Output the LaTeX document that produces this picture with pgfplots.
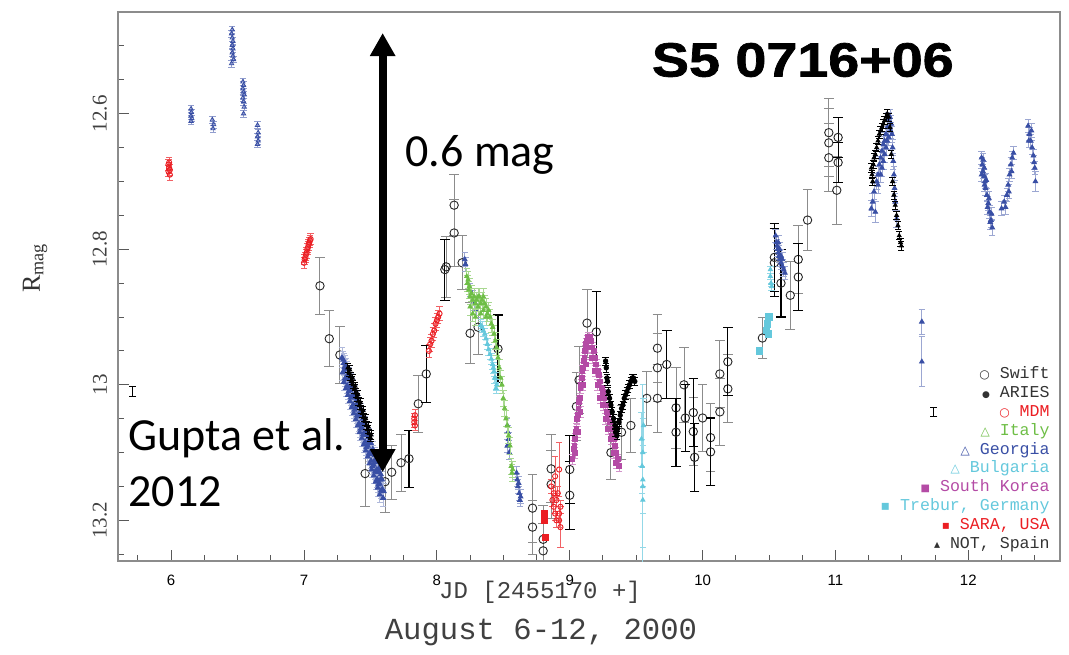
\documentclass[border=0pt]{standalone}
\usepackage{fontspec}
\setmainfont{Liberation Serif}
\newfontfamily\monof{Liberation Mono}
\newfontfamily\calif{Carlito}
\newfontfamily\sansf{Liberation Sans}
\newfontfamily\heavyf{Liberation Sans}[FakeStretch=1.16, BoldFeatures={FakeBold=1.5}]
\newfontfamily\symf{DejaVu Sans}
\usepackage{pgfplots}
\usepackage{pgfplotstable}
\pgfplotsset{compat=1.18}
\usetikzlibrary{arrows.meta}
\definecolor{geo}{RGB}{57,79,165}
\definecolor{mdm}{RGB}{235,30,35}
\definecolor{ita}{RGB}{110,190,70}
\definecolor{bul}{RGB}{100,200,220}
\definecolor{kor}{RGB}{180,75,165}
\newcommand\mk[2]{{\symf\fontsize{#1}{9.45bp}\selectfont #2}}

% ---------------- data ----------------
\pgfplotstableread{
x y e
7.12 12.854 0.042
7.19 12.932 0.041
7.27 12.956 0.042
7.46 13.131 0.049
7.61 13.143 0.045
7.66 13.129 0.040
7.73 13.115 0.042
7.86 13.028 0.042
8.07 12.826 0.045
8.13 12.735 0.045
8.13 12.776 0.050
8.19 12.820 0.040
8.25 12.924 0.045
8.31 12.915 0.040
8.72 13.182 0.050
8.72 13.210 0.040
8.80 13.228 0.050
8.80 13.245 0.040
8.86 13.124 0.050
8.86 13.147 0.050
9.05 13.032 0.050
9.07 12.993 0.050
9.13 12.909 0.050
9.31 13.100 0.040
9.39 13.070 0.040
9.46 13.060 0.040
9.58 13.020 0.040
9.66 12.946 0.050
9.66 12.975 0.050
9.66 13.020 0.050
9.80 13.034 0.060
9.86 13.000 0.055
9.93 13.069 0.050
10.00 13.049 0.050
10.06 13.078 0.050
10.13 12.984 0.050
10.13 13.040 0.050
10.19 13.006 0.050
10.45 12.931 0.030
10.66 12.868 0.050
10.72 12.815 0.050
10.79 12.757 0.045
10.95 12.628 0.050
10.95 12.643 0.050
10.95 12.665 0.050
11.01 12.713 0.050
}\swiftA
\pgfplotstableread{
x y e
7.79 13.109 0.042
7.92 12.984 0.042
8.06 12.830 0.045
8.46 12.947 0.050
9.00 13.125 0.050
9.00 13.163 0.050
9.20 12.922 0.060
9.73 12.970 0.050
9.80 13.070 0.050
9.87 13.049 0.050
9.93 13.041 0.050
9.94 13.107 0.050
10.06 13.099 0.050
10.19 12.966 0.050
10.54 12.812 0.050
10.54 12.820 0.050
10.59 12.850 0.050
10.72 12.841 0.050
11.02 12.635 0.030
11.02 12.672 0.030
}\swiftB
\pgfplotstableread{
x y e
5.71 13.010 0.007
11.74 13.040 0.007
}\typerr
\pgfplotstableread{
x y e
6.150 12.593 0.005
6.152 12.598 0.005
6.150 12.603 0.005
6.155 12.607 0.005
6.150 12.611 0.005
6.310 12.609 0.005
6.320 12.616 0.005
6.315 12.622 0.005
6.460 12.476 0.005
6.455 12.482 0.005
6.460 12.488 0.005
6.465 12.493 0.005
6.460 12.499 0.005
6.465 12.504 0.005
6.460 12.510 0.005
6.465 12.515 0.005
6.470 12.520 0.005
6.455 12.526 0.005
6.540 12.553 0.005
6.545 12.558 0.005
6.540 12.563 0.005
6.545 12.568 0.005
6.550 12.572 0.005
6.540 12.577 0.005
6.545 12.582 0.005
6.550 12.590 0.005
6.545 12.600 0.005
6.650 12.617 0.005
6.655 12.628 0.005
6.650 12.634 0.005
6.655 12.640 0.005
6.650 12.645 0.005
}\geoEarly
\pgfplotstableread{
x y e
7.285 12.960 0.015
7.300 12.968 0.015
7.290 12.982 0.012
7.295 12.963 0.012
7.300 12.980 0.012
7.305 12.974 0.012
7.310 12.990 0.012
7.315 12.973 0.012
7.320 12.988 0.012
7.325 13.001 0.012
7.330 12.992 0.012
7.335 13.010 0.012
7.340 12.991 0.012
7.345 13.008 0.012
7.350 13.002 0.012
7.355 13.018 0.012
7.360 13.001 0.012
7.365 13.016 0.012
7.370 13.029 0.012
7.375 13.019 0.012
7.380 13.037 0.012
7.385 13.018 0.012
7.390 13.035 0.012
7.395 13.029 0.012
7.400 13.045 0.012
7.405 13.028 0.012
7.410 13.044 0.012
7.415 13.057 0.012
7.420 13.047 0.012
7.425 13.065 0.012
7.430 13.046 0.012
7.435 13.063 0.012
7.440 13.057 0.012
7.445 13.073 0.012
7.450 13.056 0.012
7.455 13.071 0.012
7.460 13.084 0.012
7.465 13.074 0.012
7.470 13.092 0.012
7.475 13.073 0.012
7.480 13.090 0.012
7.485 13.084 0.012
7.490 13.101 0.012
7.495 13.084 0.012
7.500 13.099 0.012
7.505 13.112 0.012
7.510 13.102 0.012
7.515 13.120 0.012
7.520 13.101 0.012
7.525 13.118 0.012
7.530 13.112 0.012
7.535 13.128 0.012
7.540 13.111 0.012
7.545 13.126 0.012
7.550 13.139 0.012
7.555 13.129 0.012
7.560 13.147 0.012
7.565 13.128 0.012
7.570 13.146 0.012
7.575 13.140 0.012
7.580 13.156 0.012
7.585 13.139 0.012
7.590 13.154 0.012
7.595 13.167 0.012
7.600 13.157 0.012
7.300 12.996 0.012
7.315 13.005 0.012
7.330 13.015 0.012
7.345 13.024 0.012
7.360 13.033 0.012
7.375 13.042 0.012
7.390 13.051 0.012
7.405 13.060 0.012
7.420 13.070 0.012
7.435 13.079 0.012
7.450 13.088 0.012
7.465 13.097 0.012
7.480 13.106 0.012
7.495 13.116 0.012
7.510 13.125 0.012
7.525 13.134 0.012
7.540 13.143 0.012
7.555 13.152 0.012
7.570 13.162 0.012
7.308 12.968 0.012
7.323 12.977 0.012
7.338 12.986 0.012
7.353 12.995 0.012
7.368 13.004 0.012
7.383 13.013 0.012
7.398 13.022 0.012
7.413 13.031 0.012
7.428 13.040 0.012
7.443 13.050 0.012
7.458 13.059 0.012
7.473 13.068 0.012
7.488 13.077 0.012
7.503 13.086 0.012
7.518 13.095 0.012
7.533 13.104 0.012
7.548 13.114 0.012
7.563 13.123 0.012
7.578 13.132 0.012
}\geoDecl
\pgfplotstableread{
x y e
8.210 12.815 0.010
8.215 12.822 0.010
8.250 12.860 0.010
8.270 12.870 0.010
8.280 12.880 0.010
8.300 12.890 0.010
8.530 13.060 0.010
8.535 13.070 0.010
8.540 13.080 0.010
8.530 13.090 0.010
8.545 13.100 0.010
8.600 13.130 0.010
8.605 13.140 0.010
8.610 13.150 0.010
8.620 13.160 0.010
8.625 13.170 0.010
8.615 13.145 0.010
8.630 13.165 0.010
10.550 12.780 0.010
10.555 12.790 0.010
10.560 12.795 0.010
10.565 12.800 0.010
10.570 12.805 0.010
10.575 12.810 0.010
10.580 12.815 0.010
10.590 12.820 0.010
10.600 12.825 0.010
10.610 12.830 0.010
10.620 12.835 0.010
10.570 12.790 0.010
10.580 12.800 0.010
10.590 12.810 0.010
10.600 12.815 0.010
11.270 12.740 0.012
11.280 12.730 0.012
11.290 12.715 0.012
11.300 12.745 0.015
11.310 12.700 0.012
11.320 12.690 0.012
11.330 12.675 0.012
11.340 12.665 0.012
11.350 12.655 0.012
11.360 12.645 0.012
11.370 12.640 0.012
11.380 12.630 0.012
11.390 12.620 0.012
11.400 12.610 0.012
11.410 12.605 0.012
11.420 12.615 0.012
11.425 12.630 0.012
11.430 12.650 0.012
11.435 12.670 0.012
11.440 12.690 0.012
11.445 12.710 0.012
11.450 12.730 0.012
11.460 12.755 0.012
11.340 12.690 0.012
11.360 12.670 0.012
11.380 12.650 0.012
11.400 12.635 0.012
11.320 12.705 0.012
11.350 12.680 0.012
11.370 12.660 0.012
11.390 12.640 0.012
11.415 12.625 0.012
11.650 12.907 0.018
11.650 12.966 0.037
12.100 12.665 0.010
12.105 12.675 0.010
12.110 12.685 0.010
12.120 12.692 0.010
12.125 12.700 0.010
12.130 12.710 0.010
12.140 12.720 0.010
12.150 12.732 0.010
12.160 12.745 0.010
12.170 12.757 0.010
12.180 12.768 0.012
12.100 12.690 0.010
12.120 12.680 0.010
12.112 12.668 0.010
12.122 12.705 0.010
12.135 12.698 0.010
12.145 12.738 0.010
12.155 12.725 0.010
12.165 12.760 0.010
12.175 12.748 0.010
12.250 12.740 0.010
12.270 12.730 0.010
12.290 12.720 0.010
12.300 12.705 0.010
12.310 12.690 0.010
12.320 12.675 0.010
12.330 12.665 0.010
12.340 12.658 0.010
12.280 12.738 0.010
12.305 12.715 0.010
12.325 12.685 0.010
12.450 12.618 0.010
12.460 12.630 0.010
12.470 12.640 0.010
12.480 12.650 0.010
12.490 12.662 0.010
12.500 12.680 0.010
12.505 12.700 0.015
12.455 12.640 0.010
12.475 12.625 0.010
12.495 12.672 0.010
}\geoRest
\pgfplotstableread{
x y e
7.330 12.975 0.006
7.340 12.982 0.006
7.350 12.988 0.006
7.360 12.994 0.006
7.370 13.000 0.006
7.380 13.006 0.006
7.390 13.012 0.006
7.400 13.018 0.006
7.410 13.024 0.006
7.420 13.030 0.006
7.430 13.036 0.006
7.440 13.042 0.006
7.450 13.048 0.006
7.460 13.054 0.006
7.470 13.060 0.006
7.480 13.066 0.006
7.490 13.072 0.006
7.500 13.078 0.006
7.345 12.978 0.006
7.365 12.990 0.006
7.385 13.002 0.006
7.405 13.014 0.006
7.425 13.026 0.006
7.445 13.038 0.006
7.465 13.050 0.006
7.485 13.062 0.006
7.505 13.074 0.006
11.270 12.680 0.006
11.275 12.690 0.006
11.280 12.700 0.006
11.285 12.675 0.006
11.290 12.665 0.006
11.300 12.660 0.006
11.310 12.650 0.006
11.320 12.640 0.006
11.330 12.630 0.006
11.340 12.625 0.006
11.350 12.620 0.006
11.360 12.615 0.006
11.370 12.610 0.006
11.380 12.605 0.006
11.390 12.600 0.006
11.400 12.605 0.006
11.410 12.620 0.006
11.420 12.660 0.006
11.430 12.700 0.006
11.440 12.720 0.006
11.450 12.735 0.006
11.460 12.750 0.006
11.470 12.765 0.006
11.480 12.780 0.006
11.490 12.790 0.006
11.495 12.795 0.006
}\notsp
\pgfplotstableread{
x y e
9.270 12.965 0.006
9.275 12.975 0.006
9.280 12.990 0.006
9.285 12.995 0.006
9.290 13.010 0.006
9.300 13.020 0.006
9.310 13.030 0.006
9.320 13.040 0.006
9.330 13.050 0.006
9.340 13.060 0.006
9.350 13.070 0.006
9.355 13.075 0.006
9.345 13.070 0.006
9.360 13.065 0.006
9.370 13.055 0.006
9.380 13.045 0.006
9.390 13.035 0.006
9.400 13.030 0.006
9.410 13.020 0.006
9.420 13.015 0.006
9.430 13.010 0.006
9.440 13.005 0.006
9.450 13.000 0.006
9.460 12.995 0.006
9.470 12.990 0.006
9.480 12.990 0.006
9.490 12.995 0.006
}\aries
\pgfplotstableread{
x y e
5.980 12.675 0.008
5.985 12.680 0.008
5.980 12.685 0.008
5.990 12.690 0.008
5.985 12.672 0.008
5.990 12.683 0.008
7.000 12.820 0.008
7.005 12.815 0.008
7.010 12.812 0.008
7.015 12.808 0.008
7.020 12.805 0.008
7.025 12.800 0.008
7.030 12.797 0.008
7.035 12.793 0.008
7.040 12.790 0.008
7.045 12.787 0.008
7.050 12.785 0.008
7.830 13.050 0.008
7.835 13.060 0.008
7.830 13.055 0.008
7.835 13.045 0.008
7.940 12.950 0.010
7.950 12.940 0.010
7.960 12.935 0.010
7.970 12.925 0.010
7.980 12.920 0.010
7.990 12.910 0.010
8.000 12.905 0.010
8.010 12.900 0.010
8.020 12.895 0.010
8.860 13.150 0.010
8.870 13.170 0.010
8.880 13.180 0.010
8.890 13.190 0.010
8.900 13.170 0.010
8.910 13.160 0.010
8.920 13.200 0.010
8.930 13.180 0.010
8.900 13.200 0.010
8.880 13.160 0.010
8.920 13.190 0.010
8.890 13.135 0.030
8.930 13.210 0.030
8.920 13.125 0.040
}\mdmd
\pgfplotstableread{
x y e
8.810 13.190 0.004
8.810 13.200 0.004
8.815 13.225 0.004
}\sara
\pgfplotstableread{
x y e
8.225 12.840 0.012
8.230 12.850 0.012
8.235 12.845 0.012
8.240 12.860 0.012
8.245 12.855 0.012
8.250 12.870 0.012
8.260 12.865 0.012
8.270 12.875 0.012
8.280 12.870 0.012
8.290 12.880 0.012
8.300 12.875 0.012
8.310 12.885 0.012
8.320 12.870 0.012
8.330 12.880 0.012
8.340 12.875 0.012
8.350 12.890 0.012
8.360 12.880 0.012
8.370 12.885 0.012
8.380 12.895 0.012
8.390 12.890 0.012
8.400 12.900 0.012
8.410 12.910 0.012
8.420 12.915 0.012
8.250 12.885 0.012
8.270 12.895 0.012
8.290 12.900 0.012
8.310 12.870 0.012
8.330 12.895 0.012
8.350 12.870 0.012
8.370 12.900 0.012
8.430 12.925 0.012
8.440 12.935 0.012
8.450 12.945 0.012
8.460 12.960 0.012
8.470 12.975 0.012
8.480 12.990 0.012
8.490 13.000 0.012
8.500 13.020 0.012
8.510 13.035 0.012
8.520 13.050 0.012
8.530 13.060 0.012
8.540 13.075 0.012
8.550 13.090 0.012
8.560 13.120 0.012
8.565 13.130 0.012
8.570 13.125 0.012
}\italy
\pgfplotstableread{
x y e
8.330 12.912 0.008
8.340 12.915 0.008
8.350 12.920 0.008
8.360 12.925 0.008
8.370 12.932 0.008
8.380 12.940 0.008
8.390 12.948 0.008
8.400 12.955 0.008
8.410 12.962 0.008
8.420 12.970 0.008
8.430 12.980 0.008
8.440 12.990 0.008
8.450 13.000 0.008
8.425 12.975 0.008
8.435 12.990 0.008
8.445 13.005 0.008
9.540 13.080 0.040
9.550 13.100 0.050
9.545 13.120 0.040
9.550 13.140 0.050
9.555 13.060 0.040
9.550 13.170 0.070
9.550 13.150 0.150
10.510 12.830 0.005
10.510 12.840 0.005
10.515 12.850 0.005
10.520 12.855 0.005
}\bulg
\pgfplotstableread{
x y e
10.430 12.950 0.003
10.480 12.920 0.003
10.490 12.910 0.003
10.500 12.900 0.003
10.495 12.925 0.003
}\trebur
\pgfplotstableread{
x y e
9.020 13.110 0.008
9.030 13.095 0.008
9.035 13.090 0.008
9.040 13.080 0.008
9.045 13.070 0.008
9.050 13.065 0.008
9.055 13.050 0.008
9.060 13.045 0.008
9.065 13.035 0.008
9.070 13.025 0.008
9.075 13.020 0.008
9.080 13.005 0.008
9.085 13.000 0.008
9.090 12.990 0.008
9.095 12.980 0.008
9.100 12.975 0.008
9.105 12.965 0.008
9.110 12.960 0.008
9.115 12.950 0.008
9.120 12.945 0.008
9.125 12.940 0.008
9.130 12.935 0.008
9.140 12.930 0.008
9.150 12.930 0.008
9.040 13.100 0.008
9.060 13.070 0.008
9.080 13.040 0.008
9.100 13.000 0.008
9.120 12.970 0.008
9.140 12.945 0.008
9.160 12.935 0.008
9.170 12.945 0.008
9.180 12.950 0.008
9.190 12.960 0.008
9.200 12.970 0.008
9.210 12.980 0.008
9.220 12.985 0.008
9.230 12.995 0.008
9.240 13.005 0.008
9.250 13.010 0.008
9.260 13.020 0.008
9.270 13.030 0.008
9.280 13.040 0.008
9.290 13.045 0.008
9.300 13.055 0.008
9.310 13.065 0.008
9.320 13.075 0.008
9.330 13.080 0.008
9.340 13.090 0.008
9.350 13.100 0.008
9.360 13.110 0.008
9.370 13.120 0.008
9.170 12.960 0.008
9.190 12.980 0.008
9.210 13.000 0.008
9.230 13.020 0.008
9.250 13.030 0.008
9.270 13.050 0.008
9.290 13.065 0.008
9.310 13.080 0.008
9.330 13.100 0.008
9.350 13.115 0.008
}\korea

\begin{document}
\begin{tikzpicture}
\begin{axis}[
  scale only axis, width=471bp, height=274.5bp,
  clip mode=individual,
  xmin=5.6, xmax=12.69, ymin=12.45, ymax=13.26, y dir=reverse,
  xtick={6,7,8,9,10,11,12}, ytick={12.6,12.8,13,13.2},
  minor xtick={5.75,6.25,6.5,6.75,7.25,7.5,7.75,8.25,8.5,8.75,9.25,9.5,9.75,10.25,10.5,10.75,11.25,11.5,11.75,12.25,12.5},
  minor ytick={12.5,12.55,12.65,12.7,12.75,12.85,12.9,12.95,13.05,13.1,13.15,13.25},
  tick align=inside, xtick pos=bottom, ytick pos=left,
  major tick length=5.5bp, minor tick length=3bp,
  axis line style={black!45, line width=0.6bp},
  tick style={black!65, line width=0.5bp},
  /pgf/number format/assume math mode=true,
  xticklabel style={font=\sansf\fontsize{7.5bp}{9bp}\selectfont, yshift=-3.5bp},
  yticklabel style={xshift=-2bp, rotate=90, anchor=south, font=\fontsize{10.5bp}{12bp}\selectfont, text=black!75},
  every axis plot/.append style={line width=0.45bp},
]
% Swift (gray bars)
\addplot[only marks, mark=o, mark size=2.1bp, black!85,
  error bars/.cd, y dir=both, y explicit,
  error bar style={black!45, line width=0.5bp},
  error mark options={rotate=90, black!45, mark size=2.4bp, line width=0.5bp}]
  table[x=x, y=y, y error=e] {\swiftA};
% Swift (black bars)
\addplot[only marks, mark=o, mark size=2.1bp, black!85,
  error bars/.cd, y dir=both, y explicit,
  error bar style={black, line width=0.55bp},
  error mark options={rotate=90, black, mark size=2.4bp, line width=0.55bp}]
  table[x=x, y=y, y error=e] {\swiftB};
% typical error bars
\addplot[only marks, mark=*, mark size=0pt, black,
  error bars/.cd, y dir=both, y explicit,
  error bar style={black, line width=0.5bp},
  error mark options={rotate=90, black, mark size=1.8bp, line width=0.5bp}]
  table[x=x, y=y, y error=e] {\typerr};
% Georgia
\addplot[only marks, mark=triangle, mark size=1.2bp, geo,
  error bars/.cd, y dir=both, y explicit,
  error bar style={geo!55, line width=0.35bp},
  error mark options={rotate=90, geo!55, mark size=1.6bp, line width=0.35bp}]
  table[x=x, y=y, y error=e] {\geoEarly};
\addplot[only marks, mark=triangle*, mark size=1.4bp, geo,
  error bars/.cd, y dir=both, y explicit,
  error bar style={geo!40, line width=0.35bp},
  error mark options={rotate=90, geo!40, mark size=1.6bp, line width=0.35bp}]
  table[x=x, y=y, y error=e] {\geoDecl};
\addplot[only marks, mark=triangle*, mark size=1.3bp, geo,
  error bars/.cd, y dir=both, y explicit,
  error bar style={geo!50, line width=0.35bp},
  error mark options={rotate=90, geo!50, mark size=1.6bp, line width=0.35bp}]
  table[x=x, y=y, y error=e] {\geoRest};
% Italy
\addplot[only marks, mark=triangle*, mark size=1.2bp, ita,
  error bars/.cd, y dir=both, y explicit,
  error bar style={ita!60, line width=0.35bp},
  error mark options={rotate=90, ita!60, mark size=1.6bp, line width=0.35bp}]
  table[x=x, y=y, y error=e] {\italy};
% Bulgaria
\addplot[only marks, mark=triangle*, mark size=1.2bp, bul,
  error bars/.cd, y dir=both, y explicit,
  error bar style={bul!70, line width=0.4bp},
  error mark options={rotate=90, bul!70, mark size=1.6bp, line width=0.4bp}]
  table[x=x, y=y, y error=e] {\bulg};
% Trebur
\addplot[only marks, mark=square*, mark size=1.6bp, bul,
  error bars/.cd, y dir=both, y explicit,
  error bar style={bul, line width=0.4bp},
  error mark options={rotate=90, bul, mark size=1.2bp, line width=0.4bp}]
  table[x=x, y=y, y error=e] {\trebur};
% South Korea
\addplot[only marks, mark=square*, mark size=1.2bp, kor,
  error bars/.cd, y dir=both, y explicit,
  error bar style={kor!60, line width=0.35bp},
  error mark options={rotate=90, kor!60, mark size=1.6bp, line width=0.35bp}]
  table[x=x, y=y, y error=e] {\korea};
% MDM
\addplot[only marks, mark=o, mark size=1.3bp, mdm,
  error bars/.cd, y dir=both, y explicit,
  error bar style={mdm!70, line width=0.4bp},
  error mark options={rotate=90, mdm!70, mark size=1.6bp, line width=0.4bp}]
  table[x=x, y=y, y error=e] {\mdmd};
% SARA
\addplot[only marks, mark=square*, mark size=1.5bp, mdm] table[x=x, y=y] {\sara};
% ARIES
\addplot[only marks, mark=*, mark size=1.1bp, black,
  error bars/.cd, y dir=both, y explicit,
  error bar style={black, line width=0.4bp},
  error mark options={rotate=90, black, mark size=1.6bp, line width=0.4bp}]
  table[x=x, y=y, y error=e] {\aries};
% NOT
\addplot[only marks, mark=triangle*, mark size=1.1bp, black,
  error bars/.cd, y dir=both, y explicit,
  error bar style={black, line width=0.4bp},
  error mark options={rotate=90, black, mark size=1.6bp, line width=0.4bp}]
  table[x=x, y=y, y error=e] {\notsp};

% annotations
\draw[line width=4bp, {Triangle[width=12bp,length=11.5bp]}-{Triangle[width=12bp,length=11.5bp]}]
  (axis cs:7.592,12.481) -- (axis cs:7.592,13.129);
\node[anchor=center, font=\heavyf\bfseries\fontsize{24bp}{28bp}\selectfont, inner sep=0pt]
  at (axis description cs:0.727,0.9126) {S5 0716+06};
\node[anchor=base west, font=\calif\fontsize{23bp}{28bp}\selectfont, inner sep=0pt]
  at (axis description cs:0.3047,0.7195) {0.6 mag};
\node[anchor=base west, font=\calif\fontsize{23bp}{28bp}\selectfont, inner sep=0pt]
  at (axis description cs:0.0106,0.2004) {Gupta et al.};
\node[anchor=base west, font=\calif\fontsize{23bp}{28bp}\selectfont, inner sep=0pt]
  at (axis description cs:0.0106,0.0984) {2012};
\node[anchor=center, font=\monof\fontsize{12bp}{14bp}\selectfont, text=black!75, inner sep=0pt]
  at (axis description cs:0.448,-0.0565) {JD [2455170 +]};
\node[anchor=center, font=\monof\fontsize{15.3bp}{18bp}\selectfont, text=black!75, inner sep=0pt]
  at (axis description cs:0.449,-0.131) {August 6-12, 2000};
\node[anchor=center, rotate=90, font=\fontsize{13bp}{15bp}\selectfont, inner sep=0pt, text=black!80]
  at (axis description cs:-0.0881,0.534) {$\mathrm{R}_{\mathrm{mag}}$};
% legend
\node[anchor=north east, align=right, inner sep=0pt, font=\monof\fontsize{8.3bp}{9.45bp}\selectfont]
  at (axis description cs:0.9894,0.3552) {%
  \textcolor{black!80}{\mk{6bp}{○}~Swift}\\
  \textcolor{black!80}{\mk{4.5bp}{●}~ARIES}\\
  \textcolor{mdm}{\mk{6bp}{○}~MDM}\\
  \textcolor{ita}{\mk{6bp}{△}~Italy}\\
  \textcolor{geo}{\mk{6bp}{△}~Georgia}\\
  \textcolor{bul}{\mk{6bp}{△}~Bulgaria}\\
  \textcolor{kor}{\mk{5bp}{■}~South Korea}\\
  \textcolor{bul}{\mk{7bp}{▪}~Trebur, Germany}\\
  \textcolor{mdm}{\mk{6bp}{▪}~SARA, USA}\\
  \textcolor{black!80}{\mk{6bp}{▴}~NOT, Spain}};
\coordinate (bl) at (axis description cs:0,0);
\end{axis}
\pgfresetboundingbox
\path[use as bounding box] ([xshift=-59bp,yshift=-47bp]bl) rectangle ++(534.5bp,327.5bp);
\end{tikzpicture}
\end{document}
